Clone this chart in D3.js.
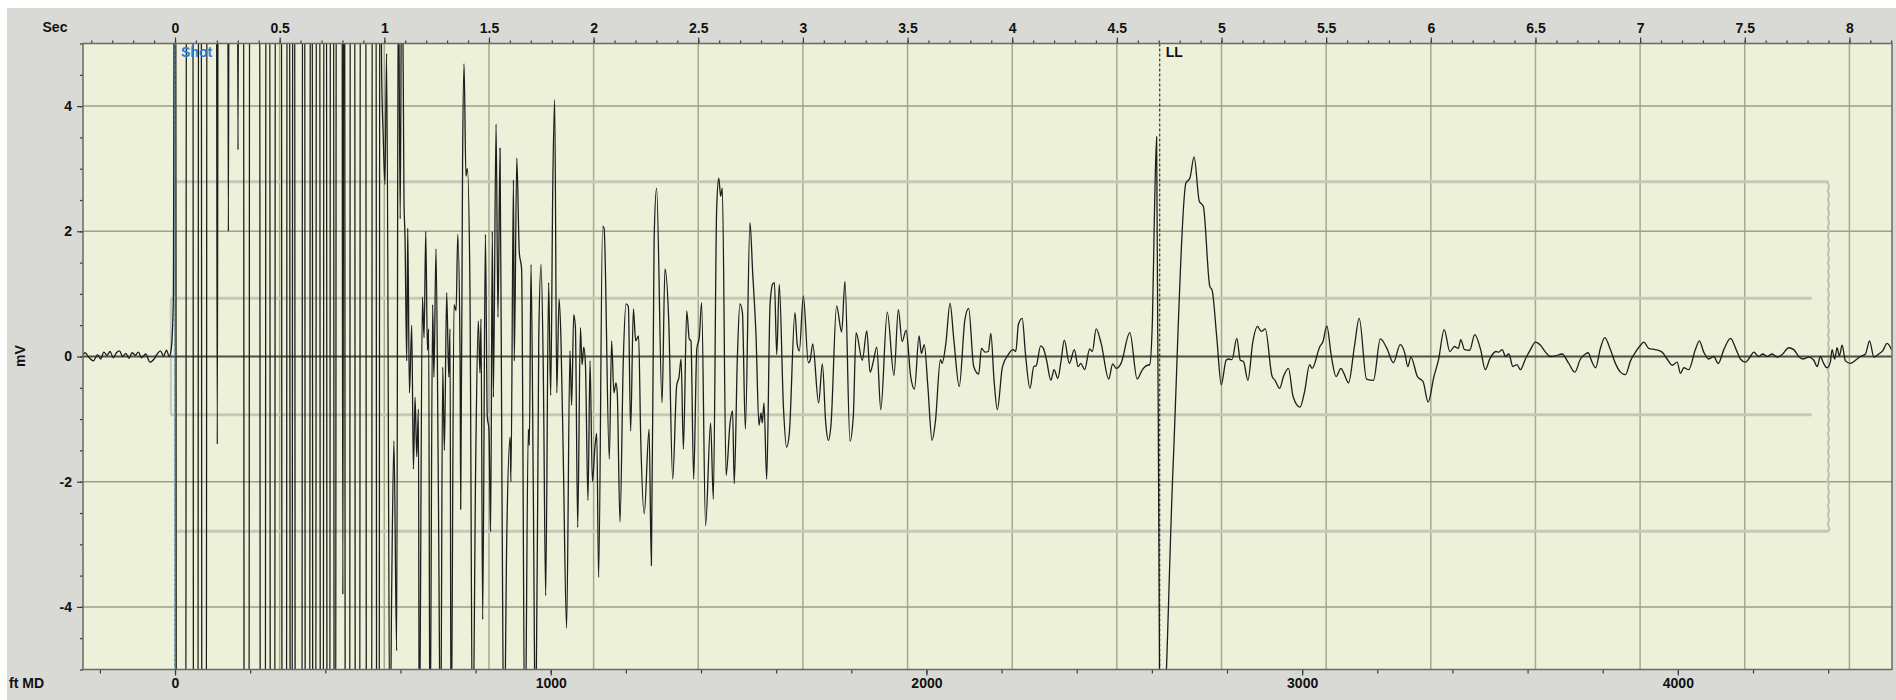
<!DOCTYPE html>
<html>
<head>
<meta charset="utf-8">
<script src="https://cdn.jsdelivr.net/npm/d3@7"></script>
<style>
  html, body { margin: 0; padding: 0; background: #ffffff; }
  svg { display: block; font-family: "Liberation Sans", Arial, sans-serif; }
</style>
</head>
<body>
<div id="chart"></div>
<script>
// Acoustic shot trace (mV vs seconds / ft MD)
(function () {
  ///////////////////////////////////////////////////////////// ! Data
  const secLabels = [0, 0.5, 1, 1.5, 2, 2.5, 3, 3.5, 4, 4.5, 5, 5.5, 6, 6.5, 7, 7.5, 8];
  const mvLabels = [-4, -2, 0, 2, 4];
  const ftLabels = [0, 1000, 2000, 3000, 4000];

  const markerNames = ["Shot", "LL"];
  const markerSec = [0, 4.705];

  // grey window lines (sec range, mV level)
  const innerBandSec = [-0.02, 7.82];
  const innerBandMv = 0.93;
  const outerBandSec = [0.008, 7.9];
  const outerBandMv = 2.79;

  // trace [sec, mV], values past +/-5 are clipped
  const preShotTrace = [
    [-0.44, 0.02], [-0.43, 0.06], [-0.41, -0.02], [-0.39, -0.07], [-0.37, 0.03], [-0.355, -0.04],
    [-0.34, 0.07], [-0.325, 0.02], [-0.31, 0.08], [-0.295, -0.02], [-0.28, 0.06], [-0.265, 0.09],
    [-0.25, 0.0], [-0.235, 0.05], [-0.22, -0.03], [-0.205, 0.06], [-0.19, 0.02], [-0.175, 0.07],
    [-0.16, -0.02], [-0.14, 0.04], [-0.12, -0.09], [-0.10, -0.04], [-0.085, 0.04], [-0.07, 0.09],
    [-0.055, 0.01], [-0.04, 0.1], [-0.028, 0.0], [-0.018, 0.12], [-0.008, 0.9]
  ];

  // clipped burst right after the shot: fast swings far past the +/-5 mV window
  const shotBurstTrace = [
    [-0.002, 9],
    [0.003, 9], [0.007, -9], [0.051, -9], [0.055, 9], [0.085, 9], [0.089, -9],
    [0.109, -9], [0.113, 9], [0.125, 9], [0.129, -9], [0.149, -9], [0.153, 9],
    [0.197, 9], [0.202, -1.4], [0.207, 9], [0.251, 9], [0.255, 2.0], [0.259, 9],
    [0.297, 9], [0.301, 3.3], [0.305, 9],
    [0.327, 9], [0.331, -9], [0.353, -9], [0.357, 9], [0.404, 9], [0.408, -9],
    [0.431, -9], [0.435, 9], [0.452, 9], [0.456, -9], [0.476, -9], [0.480, 9],
    [0.508, 9], [0.512, -9], [0.532, -9], [0.536, 9], [0.547, 9], [0.551, -9],
    [0.559, -9], [0.563, 9], [0.571, 9], [0.575, -9], [0.606, -9], [0.610, 9],
    [0.619, 9], [0.623, -9], [0.643, -9], [0.647, 9], [0.655, 9], [0.659, -9],
    [0.672, -9], [0.676, 9], [0.691, 9], [0.695, -9], [0.708, -9], [0.712, 9],
    [0.723, 9], [0.727, -9], [0.739, -9], [0.743, 9], [0.757, 9], [0.761, -9],
    [0.767, -9], [0.771, 9], [0.797, 9], [0.802, -3.8], [0.807, 9],
    [0.810, 9], [0.814, -9], [0.834, -9], [0.838, 9], [0.858, 9], [0.862, -9],
    [0.882, -9], [0.886, 9], [0.911, 9], [0.915, -9], [0.939, -9], [0.943, 9],
    [0.960, 9], [0.964, -9], [0.975, -9], [0.979, 9]
  ];

  const decayTrace = [
    [0.987, 4.6], [0.995, 3.5], [1.003, 2.75], [1.011, 4.84], [1.027, -6.5], [1.035, -3.8],
    [1.046, -1.35], [1.059, -4.7], [1.067, 6.5], [1.076, 2.2], [1.083, 6.5], [1.091, 4.2],
    [1.094, 2.5], [1.099, 1.9], [1.107, -0.07], [1.112, 2.05], [1.120, -0.58], [1.131, 0.5],
    [1.139, -1.8], [1.147, -0.65], [1.155, -1.6], [1.163, -0.84], [1.167, -6.5], [1.182, 0.95],
    [1.190, 0.3], [1.198, 2.0], [1.206, 0.1], [1.212, 0.44], [1.218, -6.5], [1.231, 0.83],
    [1.237, -0.33], [1.247, 1.72], [1.258, -2.0], [1.269, -6.5], [1.279, -0.17], [1.287, -1.5],
    [1.298, 1.02], [1.308, -0.33], [1.314, 0.44], [1.319, -6.5], [1.333, 0.83], [1.343, 0.73],
    [1.351, 1.95], [1.362, 0.0], [1.365, -2.44], [1.374, 3.14], [1.381, 4.68], [1.390, 2.88],
    [1.397, 3.0], [1.409, 1.15], [1.422, -6.5], [1.437, -1.6], [1.449, 0.57], [1.457, -0.26],
    [1.462, 0.6], [1.470, -4.2], [1.483, 1.95], [1.492, -0.97], [1.500, -1.16], [1.508, -2.8],
    [1.516, 2.0], [1.521, -0.65], [1.534, 3.71], [1.543, 0.63], [1.553, 3.33], [1.562, -2.0],
    [1.572, -6.5], [1.585, -2.9], [1.601, -1.29], [1.605, -2.0], [1.617, 2.82], [1.621, -0.07],
    [1.633, 3.17], [1.645, 1.66], [1.656, 1.4], [1.672, -6.5], [1.688, -1.16], [1.693, -1.42],
    [1.701, 1.47], [1.712, -2.19], [1.723, -6.5], [1.738, 0.31], [1.749, 1.47], [1.760, -0.33],
    [1.771, -3.82], [1.785, 1.18], [1.795, -0.62], [1.805, 2.75], [1.814, 4.1], [1.824, -0.58],
    [1.835, 0.92], [1.844, 0.28], [1.855, -1.6], [1.871, -4.34], [1.887, 0.09], [1.895, -0.78],
    [1.905, 0.67], [1.913, 0.47], [1.924, -2.73], [1.937, 0.46], [1.945, -0.13], [1.953, 0.15],
    [1.961, -0.13], [1.973, -2.3], [1.983, -0.07], [1.994, -2.0], [2.007, -1.42], [2.015, -1.23],
    [2.024, -3.53], [2.043, 2.08], [2.050, 2.05], [2.075, -1.64], [2.086, 0.25], [2.097, -0.58],
    [2.107, -0.42], [2.113, -0.58], [2.126, -2.64], [2.142, -0.04], [2.155, 0.84], [2.166, 0.8],
    [2.177, -1.19], [2.190, 0.76], [2.201, 0.25], [2.215, 0.33], [2.225, -1.29], [2.242, -2.51],
    [2.265, -1.16], [2.276, -3.34], [2.289, 1.85], [2.301, 2.69], [2.327, -0.74], [2.341, 1.4],
    [2.359, 0.57], [2.378, -1.96], [2.397, -0.46], [2.408, -0.33], [2.418, -0.04], [2.429, -1.48],
    [2.445, 0.73], [2.457, 0.28], [2.465, 0.25], [2.478, -1.96], [2.493, 0.12], [2.505, 0.31],
    [2.516, 0.86], [2.535, -2.7], [2.559, -1.06], [2.572, -2.28], [2.588, 2.37], [2.598, 2.85],
    [2.607, 2.56], [2.615, 2.69], [2.633, -1.9], [2.652, -1.06], [2.664, -0.87], [2.672, -2.03],
    [2.687, 0.0], [2.699, 0.84], [2.711, 0.7], [2.725, -1.16], [2.747, 2.14], [2.760, 1.34],
    [2.776, 0.33], [2.790, -1.1], [2.800, -0.9], [2.806, -1.06], [2.814, -0.74], [2.827, -1.96],
    [2.843, 0.83], [2.856, 1.16], [2.864, 1.18], [2.875, 0.03], [2.887, 1.15], [2.907, -0.81],
    [2.922, -1.45], [2.935, -1.23], [2.962, 0.7], [2.973, 0.19], [2.983, 0.09], [3.002, 0.97],
    [3.026, -0.1], [3.034, -0.07], [3.047, 0.2], [3.075, -0.74], [3.093, -0.12], [3.109, -1.06],
    [3.122, -1.34], [3.134, -1.1], [3.161, 0.81], [3.185, 0.39], [3.201, 1.2], [3.225, -1.35],
    [3.241, -0.94], [3.254, 0.38], [3.284, -0.06], [3.305, 0.41], [3.321, -0.25], [3.337, -0.07],
    [3.353, 0.15], [3.372, -0.85], [3.403, 0.71], [3.435, -0.3], [3.456, 0.75]
  ];

  const liquidLevelTrace = [
    [3.474, 0.24], [3.493, 0.42], [3.515, -0.32], [3.533, -0.52], [3.555, 0.33], [3.566, 0.05],
    [3.580, 0.19], [3.597, -0.48], [3.617, -1.34], [3.633, -1.04], [3.657, -0.05], [3.665, -0.11],
    [3.683, 0.21], [3.703, 0.85], [3.721, 0.27], [3.747, -0.48], [3.774, 0.59], [3.792, 0.77],
    [3.816, -0.16], [3.840, -0.28], [3.853, 0.13], [3.871, 0.07], [3.886, 0.08], [3.898, 0.37],
    [3.913, -0.37], [3.929, -0.85], [3.953, -0.17], [3.981, 0.03], [4.004, 0.11], [4.017, 0.08],
    [4.030, 0.52], [4.048, 0.61], [4.063, 0.05], [4.085, -0.51], [4.103, -0.16], [4.114, -0.15],
    [4.136, 0.17], [4.149, 0.13], [4.163, -0.04], [4.185, -0.38], [4.200, -0.21], [4.218, -0.35],
    [4.233, -0.08], [4.249, 0.26], [4.273, -0.11], [4.297, 0.11], [4.315, -0.16], [4.328, -0.11],
    [4.346, -0.21], [4.370, 0.12], [4.383, 0.08], [4.401, 0.44], [4.425, 0.21], [4.461, -0.36],
    [4.480, -0.12], [4.498, -0.19], [4.520, -0.11], [4.562, 0.38], [4.597, -0.36], [4.620, -0.22],
    [4.639, -0.15], [4.657, -0.13], [4.670, 0.59], [4.679, 2.18], [4.690, 3.51], [4.704, -5.2],
    [4.712, -6.5], [4.768, -1.81], [4.830, 2.77], [4.849, 2.85], [4.869, 3.19], [4.894, 2.48],
    [4.913, 2.4], [4.944, 1.12], [4.955, 1.06], [4.977, 0.32], [4.999, -0.45], [5.022, -0.06],
    [5.035, -0.04], [5.050, -0.05], [5.073, 0.29], [5.090, -0.06], [5.105, -0.08], [5.126, -0.38],
    [5.150, 0.24], [5.172, 0.48], [5.190, 0.4], [5.209, 0.44], [5.242, -0.32], [5.256, -0.38],
    [5.278, -0.51], [5.296, -0.32], [5.320, -0.19], [5.342, -0.64], [5.375, -0.81], [5.397, -0.56],
    [5.421, -0.13], [5.433, -0.19], [5.470, 0.16], [5.485, 0.24], [5.503, 0.49], [5.525, 0.0],
    [5.547, -0.32], [5.571, -0.19], [5.585, -0.27], [5.607, -0.42], [5.635, 0.16], [5.658, 0.61],
    [5.693, -0.36], [5.726, -0.38], [5.759, 0.28], [5.790, 0.13], [5.821, -0.1], [5.854, 0.19],
    [5.876, 0.05], [5.890, -0.16], [5.905, -0.01], [5.936, -0.32], [5.963, -0.4], [5.987, -0.73],
    [6.015, -0.32], [6.037, -0.05], [6.064, 0.43], [6.091, 0.08], [6.113, 0.16], [6.132, 0.13],
    [6.143, 0.27], [6.161, 0.11], [6.186, 0.1], [6.210, 0.35], [6.238, 0.11], [6.260, -0.21],
    [6.283, -0.03], [6.311, 0.08]
  ];

  const tailTrace = [
    [6.325, 0.07], [6.341, 0.11], [6.357, 0.0], [6.373, 0.04], [6.392, -0.16], [6.412, -0.13],
    [6.428, -0.21], [6.452, -0.04], [6.476, 0.11], [6.500, 0.23], [6.524, 0.18], [6.548, 0.07],
    [6.572, 0.0], [6.596, 0.01], [6.627, 0.04], [6.659, -0.11], [6.688, -0.25], [6.715, -0.04],
    [6.739, 0.04], [6.752, 0.06], [6.768, -0.07], [6.787, -0.18], [6.811, 0.14], [6.831, 0.3],
    [6.858, 0.11], [6.882, -0.11], [6.906, -0.25], [6.930, -0.29], [6.954, -0.07], [6.978, 0.07],
    [7.002, 0.18], [7.018, 0.23], [7.041, 0.13], [7.073, 0.11], [7.105, 0.07], [7.129, -0.04],
    [7.153, -0.14], [7.177, -0.09], [7.193, -0.27], [7.209, -0.18], [7.232, -0.21], [7.264, 0.11],
    [7.283, 0.25], [7.304, 0.07], [7.328, -0.04], [7.352, 0.0], [7.373, -0.11], [7.400, 0.11],
    [7.432, 0.29], [7.459, 0.11], [7.479, -0.04], [7.503, -0.09], [7.527, 0.0], [7.543, 0.07],
    [7.567, 0.0], [7.586, 0.04], [7.607, 0.0], [7.631, 0.04], [7.654, -0.01], [7.681, 0.04],
    [7.710, 0.14], [7.734, 0.11], [7.758, 0.0], [7.777, -0.04], [7.806, -0.01], [7.830, -0.06],
    [7.846, -0.16], [7.861, 0.0], [7.877, -0.11], [7.893, -0.18], [7.909, -0.09], [7.917, 0.11],
    [7.930, -0.04], [7.941, 0.14], [7.952, 0.01], [7.965, 0.18], [7.981, -0.07], [8.005, -0.11],
    [8.029, -0.06], [8.053, 0.0], [8.077, 0.04], [8.096, 0.25], [8.117, -0.01], [8.140, 0.04],
    [8.159, 0.09], [8.180, 0.21], [8.201, 0.11]
  ];

  ///////////////////////////////////////////////////////////// ! Setup
  const fullWidth = 1896;
  const fullHeight = 700;
  const plot = { left: 83, right: 1892, top: 43.5, bottom: 669.5 };

  const svg = d3
    .select("#chart")
    .append("svg")
    .attr("width", fullWidth)
    .attr("height", fullHeight);

  // grey panel, white strip on top and left
  svg
    .append("rect")
    .attr("x", 7)
    .attr("y", 8)
    .attr("width", fullWidth - 7)
    .attr("height", fullHeight - 8)
    .style("fill", "#d9d9d6");

  ///////////////////////////////////////////////////////////// ! Scales
  const xSec = d3.scaleLinear().domain([-0.4396, 8.2035]).range([plot.left, plot.right]);
  const xFt = d3.scaleLinear().domain([-244.9, 4570]).range([plot.left, plot.right]);
  const yMv = d3.scaleLinear().domain([-5, 5]).range([plot.bottom, plot.top]);

  // plot background + clip
  svg
    .append("rect")
    .attr("x", plot.left)
    .attr("y", plot.top)
    .attr("width", plot.right - plot.left)
    .attr("height", plot.bottom - plot.top)
    .style("fill", "#eef1d9");

  svg
    .append("clipPath")
    .attr("id", "plot-clip")
    .append("rect")
    .attr("x", plot.left)
    .attr("y", plot.top)
    .attr("width", plot.right - plot.left)
    .attr("height", plot.bottom - plot.top);

  const inner = svg.append("g").attr("clip-path", "url(#plot-clip)");

  ///////////////////////////////////////////////////////////// ! Grid
  inner
    .append("g")
    .selectAll("line")
    .data(secLabels)
    .join("line")
    .attr("x1", (d) => xSec(d))
    .attr("x2", (d) => xSec(d))
    .attr("y1", plot.top)
    .attr("y2", plot.bottom)
    .style("stroke", "#a3ab8f")
    .style("stroke-width", 1.5);

  inner
    .append("g")
    .selectAll("line")
    .data(mvLabels.filter((d) => d !== 0))
    .join("line")
    .attr("x1", plot.left)
    .attr("x2", plot.right)
    .attr("y1", (d) => yMv(d))
    .attr("y2", (d) => yMv(d))
    .style("stroke", "#9aa187")
    .style("stroke-width", 1.5);

  ///////////////////////////////////////////////////////////// ! Window lines
  const bandColor = "#c6c8b9";
  [innerBandMv, -innerBandMv].forEach((lv) => {
    inner
      .append("line")
      .attr("x1", xSec(innerBandSec[0]))
      .attr("x2", xSec(innerBandSec[1]))
      .attr("y1", yMv(lv))
      .attr("y2", yMv(lv))
      .style("stroke", bandColor)
      .style("stroke-width", 3);
  });
  inner
    .append("line")
    .attr("x1", xSec(innerBandSec[0]))
    .attr("x2", xSec(innerBandSec[0]))
    .attr("y1", yMv(innerBandMv))
    .attr("y2", yMv(-innerBandMv))
    .style("stroke", bandColor)
    .style("stroke-width", 2);

  [outerBandMv, -outerBandMv].forEach((lv) => {
    inner
      .append("line")
      .attr("x1", xSec(outerBandSec[0]))
      .attr("x2", xSec(outerBandSec[1]))
      .attr("y1", yMv(lv))
      .attr("y2", yMv(lv))
      .style("stroke", bandColor)
      .style("stroke-width", 3);
  });

  // wavy right edge of the outer window
  const waveX = xSec(outerBandSec[1]);
  const waveTop = yMv(outerBandMv);
  const waveBottom = yMv(-outerBandMv);
  const wavePts = d3.range(waveTop, waveBottom, 4.5).map((yy, i) => [waveX + (i % 2 ? 1.6 : -1.6), yy]);
  wavePts.push([waveX, waveBottom]);
  inner
    .append("path")
    .attr("d", d3.line().curve(d3.curveBasis)(wavePts))
    .style("fill", "none")
    .style("stroke", "#bdbfb0")
    .style("stroke-width", 2);

  // zero line
  inner
    .append("line")
    .attr("x1", plot.left)
    .attr("x2", plot.right)
    .attr("y1", yMv(0))
    .attr("y2", yMv(0))
    .style("stroke", "#4d5044")
    .style("stroke-width", 2);

  ///////////////////////////////////////////////////////////// ! Trace
  const trace = [].concat(preShotTrace, shotBurstTrace, decayTrace, liquidLevelTrace, tailTrace);

  const traceLine = d3
    .line()
    .x((d) => xSec(d[0]))
    .y((d) => yMv(d[1]))
    .curve(d3.curveMonotoneX);

  inner
    .append("path")
    .datum(trace)
    .attr("d", traceLine)
    .style("fill", "none")
    .style("stroke", "#1e1e1e")
    .style("stroke-width", 1.3)
    .style("stroke-linejoin", "round");

  ///////////////////////////////////////////////////////////// ! Markers
  const markerColor = ["#2a7fd6", "#111111"];
  markerSec.forEach((s, i) => {
    inner
      .append("line")
      .attr("x1", xSec(s))
      .attr("x2", xSec(s))
      .attr("y1", plot.top)
      .attr("y2", plot.bottom)
      .style("stroke", markerColor[i])
      .style("stroke-width", 1)
      .style("stroke-dasharray", "3,2");

    svg
      .append("text")
      .attr("x", xSec(s) + 6)
      .attr("y", 57)
      .style("font-size", "14px")
      .style("font-weight", "bold")
      .style("fill", markerColor[i])
      .text(markerNames[i]);
  });

  ///////////////////////////////////////////////////////////// ! Axes
  function styleAxis(g) {
    g.select(".domain").remove();
    g.selectAll(".tick line").style("stroke", "#3a3a3a").style("stroke-width", 1.2);
    g.selectAll(".tick text")
      .style("font-family", "'Liberation Sans', Arial, sans-serif")
      .style("font-size", "14px")
      .style("font-weight", "bold")
      .style("fill", "#111");
  }

  // Sec (top)
  svg
    .append("g")
    .attr("transform", `translate(0,${plot.top})`)
    .call(d3.axisTop(xSec).tickValues(d3.range(-4, 83).map((k) => k / 10)).tickSize(3).tickFormat(""))
    .call(styleAxis);
  svg
    .append("g")
    .attr("transform", `translate(0,${plot.top})`)
    .call(d3.axisTop(xSec).tickValues(secLabels).tickSize(6).tickPadding(5).tickFormat((d) => String(d)))
    .call(styleAxis);

  // mV (left)
  svg
    .append("g")
    .attr("transform", `translate(${plot.left},0)`)
    .call(d3.axisLeft(yMv).tickValues(d3.range(-10, 11).map((k) => k / 2)).tickSize(3).tickFormat(""))
    .call(styleAxis);
  svg
    .append("g")
    .attr("transform", `translate(${plot.left},0)`)
    .call(d3.axisLeft(yMv).tickValues(mvLabels).tickSize(6).tickPadding(5).tickFormat((d) => String(d)))
    .call(styleAxis);

  // ft MD (bottom)
  svg
    .append("g")
    .attr("transform", `translate(0,${plot.bottom})`)
    .call(d3.axisBottom(xFt).tickValues(d3.range(-200, 4600, 200)).tickSize(4).tickFormat(""))
    .call(styleAxis);
  svg
    .append("g")
    .attr("transform", `translate(0,${plot.bottom})`)
    .call(d3.axisBottom(xFt).tickValues(ftLabels).tickSize(6).tickPadding(3).tickFormat((d) => String(d)))
    .call(styleAxis);

  // plot frame
  svg
    .append("rect")
    .attr("x", plot.left)
    .attr("y", plot.top)
    .attr("width", plot.right - plot.left)
    .attr("height", plot.bottom - plot.top)
    .style("fill", "none")
    .style("stroke", "#6a6a64")
    .style("stroke-width", 1.5);

  ///////////////////////////////////////////////////////////// ! Axis titles
  const titleStyle = (t) =>
    t.style("font-size", "14px").style("font-weight", "bold").style("fill", "#111");

  svg.append("text").attr("x", 55).attr("y", 32).style("text-anchor", "middle").text("Sec").call(titleStyle);
  svg.append("text").attr("x", 9).attr("y", 688).text("ft MD").call(titleStyle);
  svg
    .append("text")
    .attr("transform", "translate(25,356) rotate(-90)")
    .style("text-anchor", "middle")
    .text("mV")
    .call(titleStyle);
})();
</script>
</body>
</html>
